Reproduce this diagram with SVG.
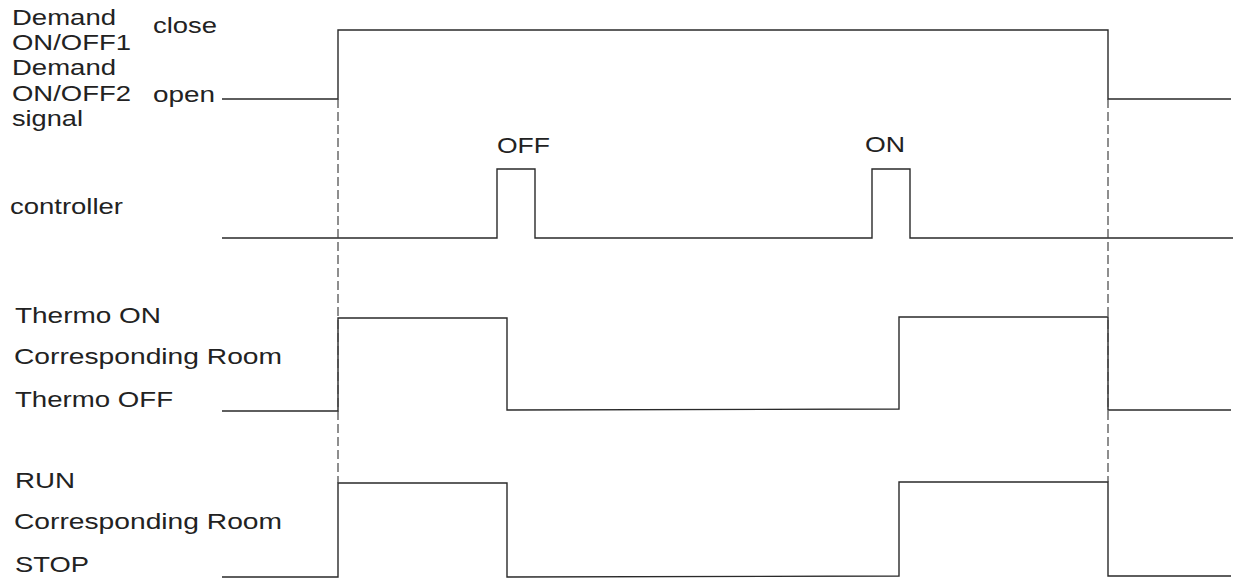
<svg xmlns="http://www.w3.org/2000/svg" width="1234" height="583" viewBox="0 0 1234 583">
<style>
text{font-family:"Liberation Sans",Arial,sans-serif;font-size:22px;fill:#222}
.w{fill:none;stroke:#2a2a2a;stroke-width:1.4;stroke-linejoin:miter}
.d{fill:none;stroke:#444;stroke-width:1.2;stroke-dasharray:9 4}
</style>
<rect width="1234" height="583" fill="#fff"/>
<g id="labels">
<text x="12" y="25" textLength="104" lengthAdjust="spacingAndGlyphs">Demand</text>
<text x="12" y="50" textLength="119" lengthAdjust="spacingAndGlyphs">ON/OFF1</text>
<text x="12" y="75" textLength="104" lengthAdjust="spacingAndGlyphs">Demand</text>
<text x="12" y="101" textLength="119" lengthAdjust="spacingAndGlyphs">ON/OFF2</text>
<text x="12" y="126" textLength="71" lengthAdjust="spacingAndGlyphs">signal</text>
<text x="153" y="33" textLength="64" lengthAdjust="spacingAndGlyphs">close</text>
<text x="153" y="102" textLength="62" lengthAdjust="spacingAndGlyphs">open</text>
<text x="10" y="214" textLength="113" lengthAdjust="spacingAndGlyphs">controller</text>
<text x="15" y="323" textLength="146" lengthAdjust="spacingAndGlyphs">Thermo ON</text>
<text x="14" y="364" textLength="268" lengthAdjust="spacingAndGlyphs">Corresponding Room</text>
<text x="15" y="407" textLength="158" lengthAdjust="spacingAndGlyphs">Thermo OFF</text>
<text x="15" y="488" textLength="60" lengthAdjust="spacingAndGlyphs">RUN</text>
<text x="14" y="529" textLength="268" lengthAdjust="spacingAndGlyphs">Corresponding Room</text>
<text x="15" y="572" textLength="74" lengthAdjust="spacingAndGlyphs">STOP</text>
</g>
<g id="demand-signal">
<polyline class="w" points="222,99 338,99 338,30 1108,30 1108,99 1231,99"/>
</g>
<g id="controller">
<polyline class="w" points="222,238 497,238 497,169 535,169 535,238 872,238 872,169 910,169 910,238 1233,238"/>
<text x="497" y="153" textLength="53" lengthAdjust="spacingAndGlyphs">OFF</text>
<text x="865" y="152" textLength="40" lengthAdjust="spacingAndGlyphs">ON</text>
</g>
<g id="thermo">
<polyline class="w" points="222,411 338,411 338,318 507,318 507,410 899,409 899,317 1108,317 1108,410 1231,410"/>
</g>
<g id="run">
<polyline class="w" points="222,577 338,577 338,483 507,483 507,577 899,576 899,482 1108,482 1108,576 1231,576"/>
</g>
<g id="connectors">
<line class="d" x1="338" y1="99" x2="338" y2="483"/>
<line class="d" x1="1108" y1="99" x2="1108" y2="482"/>
</g>
</svg>
